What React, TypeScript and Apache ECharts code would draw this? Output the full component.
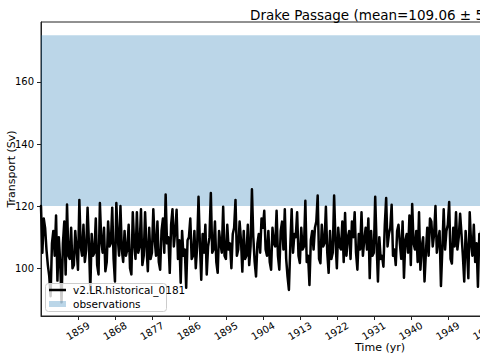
import React, { useEffect, useRef } from "react";
import * as echarts from "echarts";

const startYear = 1850;
const stepYears = 1 / 3;
const xMin = 1850;
const xMax = 2015;
const yMin = 84.6;
const yMax = 179.3;

const transport = [
  120, 105, 116, 113, 106, 101, 97.5, 91, 108, 112, 104, 117, 96, 110, 102,
  89, 108, 115, 98, 120.5, 104, 103, 113, 100, 101, 112, 106, 99.5, 122, 107,
  104, 114, 102, 106, 119.5, 108, 93, 111, 104, 105, 116, 101, 98, 121, 109,
  105, 113, 99, 102, 115, 107, 108, 119.5, 103, 95.7, 121, 110, 104, 120, 106,
  102, 112, 104, 106, 114, 100, 98, 118, 108, 103, 118, 105, 107, 119, 101,
  104, 118, 107, 99, 113, 103, 105, 119, 109, 104, 115, 102, 99.5, 112, 116,
  105, 123.7, 108, 110, 98.5, 114, 119, 107, 112, 118.8, 103, 109, 95.3, 112, 104,
  106, 93.7, 109, 110, 116, 103, 104, 112, 100, 107, 123, 108, 96.3, 111, 105,
  114, 98, 107, 110, 124.2, 105, 106, 115, 102, 98.5, 112, 108, 105, 119.8, 104,
  103, 114, 106, 108, 100, 111, 113, 122, 104, 106, 115, 109, 98.9, 112, 103,
  104, 114, 101, 107, 125.4, 110, 102, 97.3, 108, 111, 105, 116, 113, 118.5, 106,
  104, 112, 102, 99.5, 113, 108, 107, 118.5, 104, 99.5, 112, 115, 106, 119, 103,
  97.3, 93, 107, 119, 105, 111, 110, 118, 104, 101.7, 113, 106, 107, 121.7, 102,
  104, 94.6, 109, 112, 106, 113, 115, 123.4, 103, 101.6, 114, 107, 108, 119.8, 105,
  98.5, 112, 103, 105, 123.4, 109, 100, 113, 107, 106, 115, 102, 117.8, 104, 110,
  112, 103, 115, 110, 118, 105, 99.5, 111, 106, 118, 104, 109, 113, 106, 116,
  96.8, 112, 104, 105, 123, 108, 95.7, 110, 103, 104, 100.5, 114, 122.6, 107, 111,
  113, 120.4, 104, 106, 101, 112, 114, 108, 103, 115, 96.9, 109, 111, 105, 117,
  101, 120.7, 108, 106, 112, 102, 118, 99.5, 107, 110, 95.7, 105, 113, 104, 116,
  115, 107, 111, 120, 105, 109, 112, 94.3, 106, 119, 106, 112, 114, 121.3, 103,
  101.5, 113, 107, 118, 106, 110, 117.5, 111, 104, 95.7, 112, 106, 96.8, 118, 108,
  104, 114, 102, 108, 94, 111, 110, 116, 105, 103, 112, 107, 106, 114, 100,
  101, 110, 105,
];

const obsRange = [120, 175];
const xTickYears = [1859, 1868, 1877, 1886, 1895, 1904, 1913, 1922, 1931, 1940, 1949, 1958];
const yTicks = [100, 120, 140, 160];
const seriesName = "v2.LR.historical_0181";
const obsName = "observations";
const titleText = "Drake Passage (mean=109.06 \u00b1 5.12)";
const xLabel = "Time (yr)";
const yLabel = "Transport (Sv)";

const FONT = "DejaVu Sans";
const OBS_COLOR = "rgba(31,119,180,0.3)";

export default function App() {
  const ref = useRef<HTMLDivElement>(null);
  useEffect(() => {
    if (!ref.current) return;
    const chart = echarts.init(ref.current, null, { renderer: "svg" });
    const data = transport.map((v, i) => [startYear + i * stepYears, v]);
    chart.setOption({
      animation: false,
      backgroundColor: "#ffffff",
      textStyle: { fontFamily: FONT },
      title: {
        text: titleText,
        left: 245,
        top: 3,
        textStyle: { fontFamily: FONT, fontSize: 13.5, fontWeight: "normal", color: "#000" },
      },
      grid: {
        left: 41,
        top: 22,
        width: 678,
        height: 294,
        outerBoundsMode: "none",
        containLabel: false,
        show: true,
        borderColor: "#222",
        borderWidth: 1,
        backgroundColor: "transparent",
      },
      xAxis: {
        type: "value",
        min: xMin,
        max: xMax,
        name: xLabel,
        nameLocation: "middle",
        nameGap: 26,
        nameMoveOverlap: false,
        nameTextStyle: { fontFamily: FONT, fontSize: 11, color: "#000" },
        splitLine: { show: false },
        axisLine: { show: true, lineStyle: { color: "#222", width: 1 } },
        axisTick: { show: true, inside: false, length: 4, customValues: xTickYears, lineStyle: { color: "#222" } },
        axisLabel: {
          customValues: xTickYears,
          rotate: 30,
          align: "center",
          verticalAlign: "middle",
          margin: 15,
          fontFamily: FONT,
          fontSize: 10,
          color: "#000",
          formatter: (v: number) => String(v),
        },
      },
      yAxis: {
        type: "value",
        min: yMin,
        max: yMax,
        name: yLabel,
        nameLocation: "middle",
        nameGap: 24,
        nameMoveOverlap: false,
        nameRotate: 90,
        nameTextStyle: { fontFamily: FONT, fontSize: 11, color: "#000" },
        splitLine: { show: false },
        axisLine: { show: true, lineStyle: { color: "#222", width: 1 } },
        axisTick: { show: true, inside: false, length: 4, customValues: yTicks, lineStyle: { color: "#222" } },
        axisLabel: {
          customValues: yTicks,
          margin: 7,
          fontFamily: FONT,
          fontSize: 10,
          color: "#000",
          formatter: (v: number) => String(v),
        },
      },
      series: [
        {
          name: obsName,
          type: "line",
          data: [],
          z: 1,
          markArea: {
            silent: true,
            itemStyle: { color: OBS_COLOR },
            data: [[{ yAxis: obsRange[0] }, { yAxis: obsRange[1] }]],
          },
        },
        {
          name: seriesName,
          type: "line",
          data,
          z: 2,
          showSymbol: false,
          symbol: "none",
          lineStyle: { color: "#000", width: 2.5, join: "round", cap: "round" },
        },
      ],
      graphic: [
        {
          type: "group",
          z: 100,
          children: [
            {
              type: "rect",
              z: 100,
              shape: { x: 45.5, y: 283.5, width: 121, height: 28, r: 3 },
              style: { fill: "rgba(255,255,255,0.8)", stroke: "#cccccc", lineWidth: 1 },
            },
            {
              type: "line",
              z: 101,
              shape: { x1: 49, y1: 290, x2: 66, y2: 290 },
              style: { stroke: "#000", lineWidth: 2.5 },
            },
            {
              type: "text",
              z: 101,
              x: 73,
              y: 290,
              style: { text: seriesName, fontFamily: FONT, fontSize: 10.5, fill: "#000", verticalAlign: "middle" },
            },
            {
              type: "rect",
              z: 101,
              shape: { x: 49, y: 301, width: 17, height: 6 },
              style: { fill: OBS_COLOR },
            },
            {
              type: "text",
              z: 101,
              x: 73,
              y: 304,
              style: { text: obsName, fontFamily: FONT, fontSize: 10.5, fill: "#000", verticalAlign: "middle" },
            },
          ],
        },
      ],
    });
    return () => chart.dispose();
  }, []);
  return (
    <div
      ref={ref}
      style={{ position: "fixed", left: 0, top: 0, width: 480, height: 360, overflow: "hidden", background: "#fff" }}
    />
  );
}
